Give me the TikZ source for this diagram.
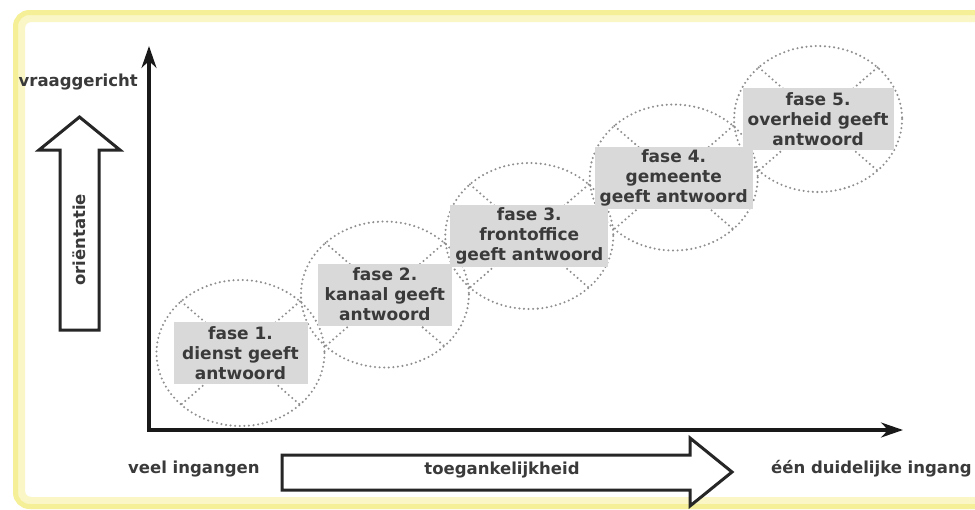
\documentclass[tikz,border=0pt]{standalone}
\usepackage{fontspec}
\setmainfont{DejaVu Sans}
\usetikzlibrary{arrows.meta}
\definecolor{frameyellow}{HTML}{F3EC7E}
\definecolor{boxgrey}{HTML}{D9D9D9}
\definecolor{ringgrey}{HTML}{8E8E8E}
\definecolor{textgrey}{HTML}{3A3A3A}
\tikzset{
    fasebox/.style={fill=boxgrey, text=textgrey, font=\fontsize{17}{20}\selectfont\bfseries,
        align=center, inner xsep=5pt, inner ysep=0pt, minimum width=134pt, minimum height=62pt},
    ring/.style={draw=ringgrey, line width=2.3pt, line cap=round, dash pattern=on 0pt off 4.6pt},
    axisline/.style={line width=3.2pt, draw=black!90},
    blockarrow/.style={draw=black!85, line width=3pt, fill=white, line join=miter},
    plainlabel/.style={text=textgrey, font=\fontsize{16.5}{20}\selectfont\bfseries, inner sep=0pt},
    common settings/.style={x=1pt, y=-1pt}
}

\begin{document}
\begin{tikzpicture}[common settings]

    % 0. Canvas and yellow frame
    \fill[white] (0,0) rectangle (975,509);
    \useasboundingbox (0,0) rectangle (975,509);
    \clip (0,0) rectangle (975,509);
    \draw[frameyellow!45, line width=12pt, rounded corners=12pt] (19,16) rectangle (1000,503);
    \draw[frameyellow!80, line width=5pt, rounded corners=14pt] (15.5,12.5) rectangle (1000,506.5);

    % 1. Axes
    \coordinate (origin) at (149,430);
    \coordinate (ytip) at (149,46);
    \coordinate (xtip) at (903,430);
    \draw[axisline, {Stealth[length=22pt, width=15pt]}-{Stealth[length=22pt, width=15pt]}]
        (ytip) -- (origin) -- (xtip);

    % 2. Dotted rings with a cross in each
    \foreach \i in {1,...,5} {
        \pgfmathsetmacro{\cx}{240.5 + (\i-1)*144.4}
        \pgfmathsetmacro{\cy}{353 - (\i-1)*58.5}
        \coordinate (c\i) at (\cx,\cy);
        \draw[ring] (c\i) ellipse [x radius=84, y radius=73];
        \draw[ring] (c\i) ++(-59.4,-51.6) -- ++(118.8,103.2);
        \draw[ring] (c\i) ++(59.4,-51.6) -- ++(-118.8,103.2);
    }

    % 3. Phase labels
    \foreach \i/\txt in {1/{fase 1.\\dienst geeft\\antwoord},
                         2/{fase 2.\\kanaal geeft\\antwoord},
                         3/{fase 3.\\frontoffice\\geeft antwoord},
                         4/{fase 4.\\gemeente\\geeft antwoord},
                         5/{fase 5.\\overheid geeft\\antwoord}} {
        \node[fasebox] (fase\i) at (c\i) {\txt};
    }

    % 4. Outline arrows and their labels
    \draw[blockarrow] (60,330) -- (60,150) -- (39,150) -- (79.5,117) -- (120,150)
        -- (99,150) -- (99,330) -- cycle;
    \node[plainlabel, rotate=90] (orient) at (79.5,240) {oriëntatie};

    \draw[blockarrow] (282,455) -- (690,455) -- (690,438) -- (732,472) -- (690,506)
        -- (690,490) -- (282,490) -- cycle;
    \node[plainlabel] (toegang) at (502,470) {toegankelijkheid};

    \node[plainlabel, anchor=west] (veel) at (128,469) {veel ingangen};
    \node[plainlabel, anchor=west] (een) at (771,469) {één duidelijke ingang};
    \node[plainlabel, anchor=east] (vraag) at (138,82) {vraaggericht};

\end{tikzpicture}
\end{document}
